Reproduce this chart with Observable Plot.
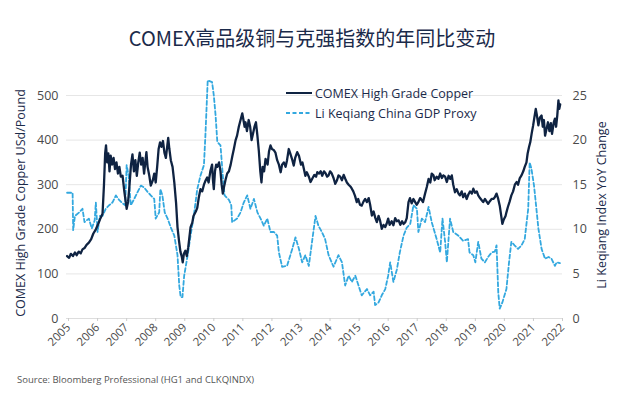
<!DOCTYPE html>
<html>
<head>
<meta charset="utf-8">
<script src="https://cdn.jsdelivr.net/npm/d3@7"></script>
<script src="https://cdn.jsdelivr.net/npm/@observablehq/plot@0.6"></script>
<style>
  html, body { margin: 0; padding: 0; background: #fff; }
  #wrap { position: relative; width: 624px; height: 398px; overflow: hidden; font-family: "Open Sans", Lato, sans-serif; }
  #title { position: absolute; left: 0; width: 624px; top: 24px; text-align: center; font-family: "Noto Sans CJK SC", "Noto Sans", sans-serif; font-size: 20px; font-weight: 400; line-height: 28px; color: #1b2a4a; }
  #chart { position: absolute; left: 0; top: 60px; }
  #legend { position: absolute; left: 286px; top: 83px; font-size: 12.5px; color: #1b2a4a; }
  #legend .row { display: flex; align-items: center; height: 20px; }
  #legend svg { margin-right: 3px; }
  #caption { position: absolute; left: 17px; top: 373px; font-size: 9.5px; color: #555; }
</style>
</head>
<body>
<div id="wrap">
  <div id="title">COMEX高品级铜与克强指数的年同比变动</div>
  <div id="chart"></div>
  <div id="legend"></div>
  <div id="caption">Source: Bloomberg Professional (HG1 and CLKQINDX)</div>
</div>
<script>
// ---- data (decimal years) ----
const seriesNames = ["COMEX High Grade Copper", "Li Keqiang China GDP Proxy"];
const yearTicks = [2005,2006,2007,2008,2009,2010,2011,2012,2013,2014,2015,2016,2017,2018,2019,2020,2021,2022];
const leftTicks = [0,100,200,300,400,500];
const rightTicks = [0,5,10,15,20,25];

const copperT = [2004.95,2005.02,2005.08,2005.15,2005.22,2005.28,2005.35,2005.42,2005.48,2005.55,2005.62,2005.7,2005.78,2005.85,2005.94,2006.02,2006.1,2006.17,2006.22,2006.26,2006.29,2006.33,2006.37,2006.41,2006.45,2006.5,2006.55,2006.6,2006.65,2006.7,2006.75,2006.8,2006.86,2006.92,2007.0,2007.05,2007.1,2007.15,2007.2,2007.25,2007.3,2007.35,2007.4,2007.45,2007.5,2007.55,2007.6,2007.65,2007.68,2007.72,2007.78,2007.83,2007.9,2007.95,2008.0,2008.05,2008.1,2008.15,2008.2,2008.25,2008.3,2008.35,2008.4,2008.43,2008.47,2008.52,2008.58,2008.64,2008.7,2008.75,2008.8,2008.85,2008.9,2008.93,2008.97,2009.02,2009.07,2009.12,2009.2,2009.26,2009.3,2009.38,2009.43,2009.48,2009.54,2009.6,2009.66,2009.72,2009.77,2009.82,2009.88,2009.94,2009.97,2010.0,2010.04,2010.08,2010.12,2010.18,2010.23,2010.27,2010.31,2010.35,2010.4,2010.46,2010.52,2010.58,2010.64,2010.69,2010.75,2010.8,2010.86,2010.92,2010.98,2011.02,2011.06,2011.09,2011.14,2011.2,2011.25,2011.3,2011.35,2011.4,2011.45,2011.5,2011.55,2011.6,2011.64,2011.68,2011.73,2011.78,2011.85,2011.9,2011.95,2012.0,2012.06,2012.12,2012.18,2012.24,2012.3,2012.35,2012.41,2012.47,2012.52,2012.58,2012.63,2012.69,2012.75,2012.8,2012.87,2012.93,2013.0,2013.05,2013.1,2013.15,2013.2,2013.27,2013.33,2013.4,2013.46,2013.52,2013.56,2013.62,2013.68,2013.73,2013.79,2013.85,2013.9,2013.95,2014.0,2014.06,2014.12,2014.18,2014.24,2014.29,2014.35,2014.41,2014.47,2014.52,2014.58,2014.64,2014.7,2014.75,2014.8,2014.86,2014.92,2014.97,2015.03,2015.09,2015.15,2015.21,2015.27,2015.33,2015.38,2015.44,2015.5,2015.56,2015.61,2015.67,2015.72,2015.78,2015.84,2015.9,2015.95,2016.0,2016.05,2016.12,2016.18,2016.24,2016.3,2016.36,2016.42,2016.48,2016.53,2016.59,2016.64,2016.7,2016.75,2016.81,2016.87,2016.92,2016.98,2017.04,2017.1,2017.16,2017.2,2017.27,2017.33,2017.39,2017.45,2017.5,2017.56,2017.6,2017.67,2017.73,2017.79,2017.85,2017.9,2017.96,2018.02,2018.08,2018.14,2018.19,2018.24,2018.3,2018.36,2018.42,2018.47,2018.53,2018.58,2018.64,2018.7,2018.76,2018.82,2018.88,2018.93,2018.99,2019.05,2019.1,2019.16,2019.22,2019.27,2019.33,2019.39,2019.44,2019.5,2019.56,2019.62,2019.67,2019.73,2019.78,2019.84,2019.88,2019.93,2019.98,2020.04,2020.07,2020.12,2020.18,2020.24,2020.3,2020.36,2020.42,2020.47,2020.53,2020.59,2020.65,2020.7,2020.76,2020.8,2020.85,2020.89,2020.94,2020.99,2021.03,2021.08,2021.12,2021.17,2021.22,2021.28,2021.32,2021.36,2021.4,2021.45,2021.5,2021.55,2021.6,2021.64,2021.7,2021.74,2021.78,2021.82,2021.86,2021.89,2021.92];
const copperV = [140,136,145,140,148,142,150,146,155,158,165,170,178,190,200,212,225,235,300,370,388,350,370,330,365,345,360,335,350,325,340,318,320,285,246,262,300,345,368,330,355,320,350,372,345,360,325,355,373,340,320,298,310,325,305,340,380,395,385,398,372,360,388,405,380,355,340,305,260,205,175,150,138,126,145,152,140,160,205,215,230,240,248,270,290,285,300,310,316,305,330,345,310,290,330,345,340,350,330,300,280,295,310,325,330,345,365,380,400,410,430,445,460,445,430,440,420,445,430,400,415,430,440,410,375,330,305,340,330,358,345,375,388,380,378,372,355,345,328,345,350,340,355,380,370,358,343,360,373,365,345,350,335,320,328,318,306,315,322,318,328,325,330,320,330,325,318,321,330,325,315,302,310,321,318,310,322,314,305,300,296,291,285,275,261,268,255,253,262,268,261,270,255,231,240,225,216,230,220,201,210,205,213,224,210,218,209,225,218,220,210,218,212,216,225,261,270,258,268,262,255,261,270,265,261,280,295,313,305,325,321,310,318,313,325,315,321,318,306,320,313,321,300,283,290,280,276,285,272,280,268,278,285,280,291,282,285,276,270,265,261,268,262,257,263,268,268,272,280,270,253,235,212,222,230,238,250,262,276,285,300,306,300,315,321,330,340,350,370,385,395,415,433,450,470,455,433,450,455,430,445,410,425,440,420,438,414,440,448,430,455,489,470,480];

const likT = [2004.95,2005.14,2005.16,2005.22,2005.37,2005.48,2005.55,2005.7,2005.8,2005.9,2005.94,2006.0,2006.08,2006.17,2006.28,2006.4,2006.51,2006.63,2006.74,2006.86,2006.95,2007.0,2007.07,2007.14,2007.26,2007.38,2007.49,2007.6,2007.72,2007.83,2007.95,2008.0,2008.12,2008.16,2008.23,2008.31,2008.41,2008.52,2008.64,2008.75,2008.81,2008.86,2008.92,2008.98,2009.1,2009.2,2009.31,2009.43,2009.54,2009.66,2009.71,2009.79,2009.94,2010.0,2010.06,2010.12,2010.23,2010.31,2010.37,2010.52,2010.6,2010.63,2010.8,2010.92,2011.03,2011.15,2011.26,2011.38,2011.5,2011.61,2011.72,2011.84,2011.95,2012.07,2012.18,2012.24,2012.35,2012.52,2012.7,2012.81,2012.93,2013.04,2013.15,2013.27,2013.38,2013.5,2013.6,2013.72,2013.83,2013.95,2014.12,2014.29,2014.41,2014.52,2014.64,2014.75,2014.87,2014.98,2015.09,2015.27,2015.38,2015.5,2015.55,2015.67,2015.78,2015.9,2016.0,2016.07,2016.18,2016.3,2016.4,2016.53,2016.64,2016.76,2016.87,2016.99,2017.04,2017.16,2017.27,2017.39,2017.5,2017.67,2017.79,2017.87,2017.96,2018.02,2018.13,2018.24,2018.41,2018.58,2018.75,2018.8,2018.93,2019.0,2019.1,2019.21,2019.33,2019.44,2019.56,2019.67,2019.73,2019.79,2019.84,2019.93,2020.07,2020.16,2020.24,2020.35,2020.47,2020.59,2020.7,2020.82,2020.87,2020.93,2021.02,2021.08,2021.17,2021.28,2021.4,2021.52,2021.62,2021.74,2021.8,2021.91];
const likV = [14.1,14.1,9.9,11.5,11.9,12.3,10.8,11.2,10.1,11.0,13.0,9.7,11.5,11.5,12.3,12.7,13.0,13.8,13.3,12.9,12.7,17.2,16.0,12.7,13.4,14.2,14.9,14.7,14.2,13.8,13.4,11.2,11.9,14.5,13.8,11.9,11.2,10.2,9.3,7.1,3.7,2.4,2.4,4.8,7.1,9.3,11.5,14.5,16.0,17.2,20.5,26.7,26.5,25.0,22.8,19.8,19.4,16.0,13.8,13.3,12.7,10.8,11.2,11.9,13.0,13.8,12.3,13.4,11.9,11.2,10.4,11.2,9.7,9.7,9.3,7.4,5.8,5.9,7.8,9.1,7.8,6.3,7.1,5.9,8.6,11.5,10.4,9.7,8.9,7.1,5.8,7.1,6.3,3.7,4.8,4.1,4.8,3.7,2.6,3.3,2.6,3.0,1.5,1.8,2.6,3.3,4.8,6.3,4.1,5.5,7.4,9.3,10.2,10.6,12.7,12.3,9.7,11.2,10.8,12.5,10.8,8.9,7.4,11.2,8.6,6.3,11.2,9.7,9.3,8.7,8.9,7.4,7.1,6.3,8.6,6.7,6.3,6.9,7.4,7.5,8.2,2.9,1.1,1.8,3.3,6.3,8.6,8.2,7.8,8.2,8.9,12.3,17.5,16.8,14.9,13.0,10.1,7.8,6.7,6.9,6.7,5.9,6.3,6.2];

const copperColor = "#0f2342";
const likColor = "#33a8df";
const ratio = 20; // right axis 0-25 maps onto left axis 0-500

const copper = copperT.map((t, i) => ({t, v: copperV[i]}));
const lik = likT.map((t, i) => ({t, v: likV[i]}));

const chart = Plot.plot({
  width: 624,
  height: 298,
  marginTop: 35,
  marginBottom: 40,
  marginLeft: 66,
  marginRight: 62,
  style: {fontFamily: "'Open Sans', Lato, sans-serif", fontSize: "12px", color: "#4a4a4a", background: "transparent", overflow: "visible"},
  x: {domain: [2004.93, 2022.0]},
  y: {domain: [0, 500]},
  marks: [
    Plot.gridY(leftTicks, {stroke: "#e6e6e6", strokeOpacity: 1}),
    Plot.ruleY([0], {stroke: "#dddddd"}),
    Plot.axisY(leftTicks, {anchor: "left", tickSize: 0, tickPadding: 8, fontSize: 12.5, fill: "#4a4a4a", label: null}),
    Plot.axisY(rightTicks.map(d => d * ratio), {anchor: "right", tickSize: 0, tickPadding: 10, fontSize: 12.5, fill: "#4a4a4a", tickFormat: d => String(d / ratio), label: null}),
    Plot.axisX(yearTicks, {anchor: "bottom", tickSize: 3, stroke: "#cccccc", tickRotate: -45, tickFormat: d => String(d), fontSize: 11.5, fill: "#4a4a4a", label: null, tickPadding: 4}),
    Plot.line(lik, {x: "t", y: d => d.v * ratio, stroke: likColor, strokeWidth: 1.8, strokeDasharray: "4,2.5"}),
    Plot.line(copper, {x: "t", y: "v", stroke: copperColor, strokeWidth: 2.3})
  ]
});

// axis titles as rotated text appended to the svg
const svgNS = "http://www.w3.org/2000/svg";
function addLabel(text, x, y) {
  const el = document.createElementNS(svgNS, "text");
  el.setAttribute("transform", `translate(${x},${y}) rotate(-90)`);
  el.setAttribute("text-anchor", "middle");
  el.setAttribute("dominant-baseline", "middle");
  el.setAttribute("fill", "#1b2a4a");
  el.setAttribute("font-size", "12.5");
  el.setAttribute("font-family", "'Open Sans', Lato, sans-serif");
  el.textContent = text;
  chart.appendChild(el);
}
addLabel("COMEX High Grade Copper USd/Pound", 22, 143);
addLabel("Li Keqiang Index YoY Change", 603, 145);
document.getElementById("chart").appendChild(chart);

// legend
const legend = document.getElementById("legend");
[[seriesNames[0], copperColor, null, 2], [seriesNames[1], likColor, "4,2.5", 1.8]].forEach(([name, color, dash, w]) => {
  const row = document.createElement("div");
  row.className = "row";
  row.innerHTML = `<svg width="26" height="10"><line x1="0" x2="26" y1="5" y2="5" stroke="${color}" stroke-width="${w}" ${dash ? `stroke-dasharray="${dash}"` : ""}/></svg><span>${name}</span>`;
  legend.appendChild(row);
});
</script>
</body>
</html>
